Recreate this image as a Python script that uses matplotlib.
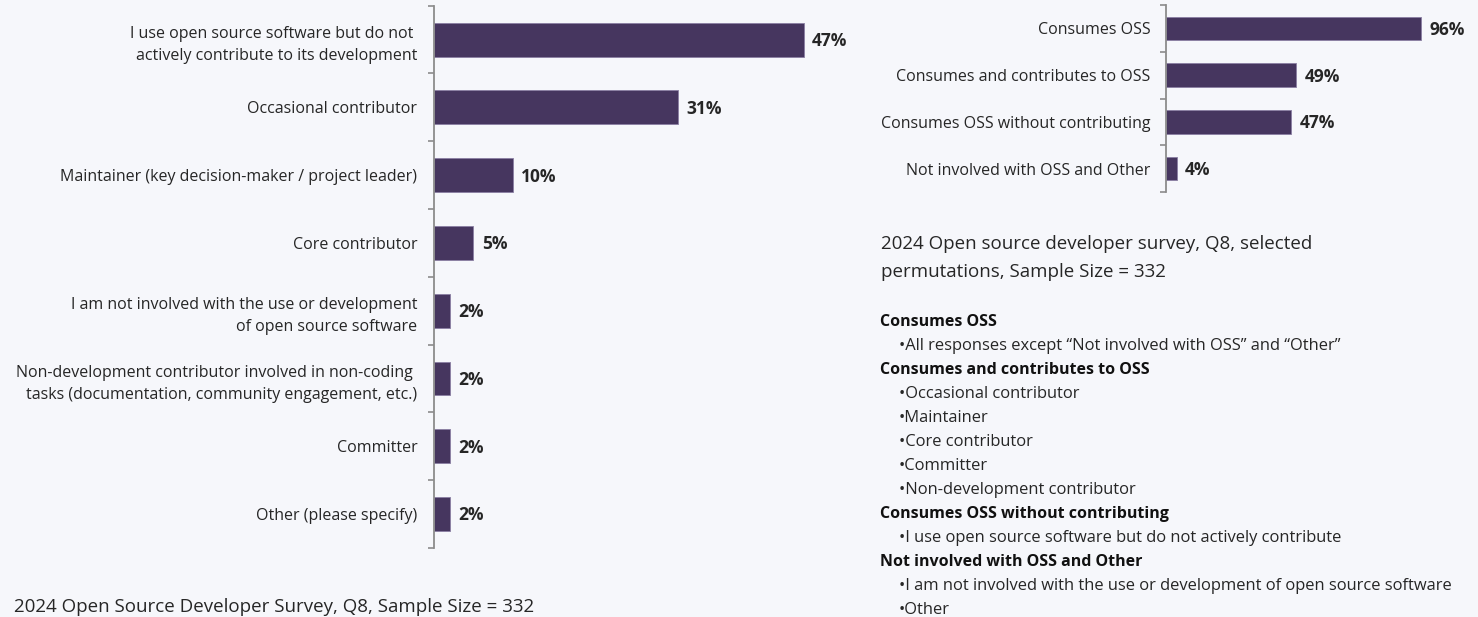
import matplotlib
matplotlib.use("Agg")
import matplotlib.pyplot as plt
from matplotlib.ticker import FixedLocator

plt.rcParams['font.family'] = ['Open Sans', 'DejaVu Sans']

# left chart data
roles = [
    "I use open source software but do not \nactively contribute to its development",
    "Occasional contributor",
    "Maintainer (key decision-maker / project leader)",
    "Core contributor",
    "I am not involved with the use or development\nof open source software",
    "Non-development contributor involved in non-coding \ntasks (documentation, community engagement, etc.)",
    "Committer",
    "Other (please specify)",
]
role_pct = [47, 31, 10, 5, 2, 2, 2, 2]

# right chart data
groups = [
    "Consumes OSS",
    "Consumes and contributes to OSS",
    "Consumes OSS without contributing",
    "Not involved with OSS and Other",
]
group_pct = [96, 49, 47, 4]

# definitions under the right chart
notes = [
    ("Consumes OSS", ["All responses except \u201cNot involved with OSS\u201d and \u201cOther\u201d"]),
    ("Consumes and contributes to OSS", ["Occasional contributor", "Maintainer", "Core contributor",
                                         "Committer", "Non-development contributor"]),
    ("Consumes OSS without contributing", ["I use open source software but do not actively contribute"]),
    ("Not involved with OSS and Other", ["I am not involved with the use or development of open source software",
                                         "Other"]),
]

left_note = "2024 Open Source Developer Survey, Q8, Sample Size = 332"
right_note = "2024 Open source developer survey, Q8, selected\npermutations, Sample Size = 332"

BG = '#f6f7fb'
BAR = '#46365f'
TXT = '#262626'
AXC = '#8c8c8c'

W, H = 1478, 617
fig = plt.figure(figsize=(W / 100, H / 100), dpi=100, facecolor=BG)


def px(x0, y0, x1, y1):
    return [x0 / W, 1 - y1 / H, (x1 - x0) / W, (y1 - y0) / H]


def barh_chart(ax, labels, values, xmax, pad):
    ax.set_facecolor(BG)
    pos = list(range(len(labels)))
    ax.barh(pos, values, height=0.5, color=BAR, edgecolor='#8a7fa3', linewidth=0.6)
    ax.set_xlim(0, xmax)
    ax.set_ylim(len(labels) - 0.5, -0.5)
    for s in ['top', 'right', 'bottom']:
        ax.spines[s].set_visible(False)
    ax.spines['left'].set_color(AXC)
    ax.spines['left'].set_linewidth(1.3)
    ax.set_xticks([])
    ax.set_yticks(pos)
    ax.set_yticklabels(labels, fontsize=11.5, color=TXT, linespacing=1.55)
    ax.tick_params(axis='y', which='major', length=0, pad=pad)
    ax.yaxis.set_minor_locator(FixedLocator([p - 0.5 for p in pos] + [len(pos) - 0.5]))
    ax.tick_params(axis='y', which='minor', length=4, width=1.2, color=AXC)
    for p, v in zip(pos, values):
        ax.annotate(f"{v}%", (v, p), xytext=(6, -1), textcoords='offset points',
                    va='center', ha='left', fontsize=12.5, fontweight='bold', color=TXT)


ax1 = fig.add_axes(px(434, 5.7, 850, 548))
barh_chart(ax1, roles, role_pct, 416 / 7.87, 12)

ax2 = fig.add_axes(px(1166, 5, 1466, 192))
barh_chart(ax2, groups, group_pct, 300 / 2.66, 11)

fig.text(14 / W, 1 - 607 / H, left_note, fontsize=13.5, color=TXT, va='center', ha='left')
fig.text(881 / W, 1 - 258 / H, right_note, fontsize=13.5, color=TXT, va='center', ha='left',
         linespacing=1.65)

y = 321.7
for head, items in notes:
    fig.text(880 / W, 1 - y / H, head, fontsize=11.5, fontweight='bold', color='#111111', va='center')
    y += 24
    for it in items:
        fig.text(899 / W, 1 - y / H, "\u2022" + it, fontsize=11.9, color=TXT, va='center')
        y += 24

fig.savefig("out.png", dpi=100, facecolor=BG)
